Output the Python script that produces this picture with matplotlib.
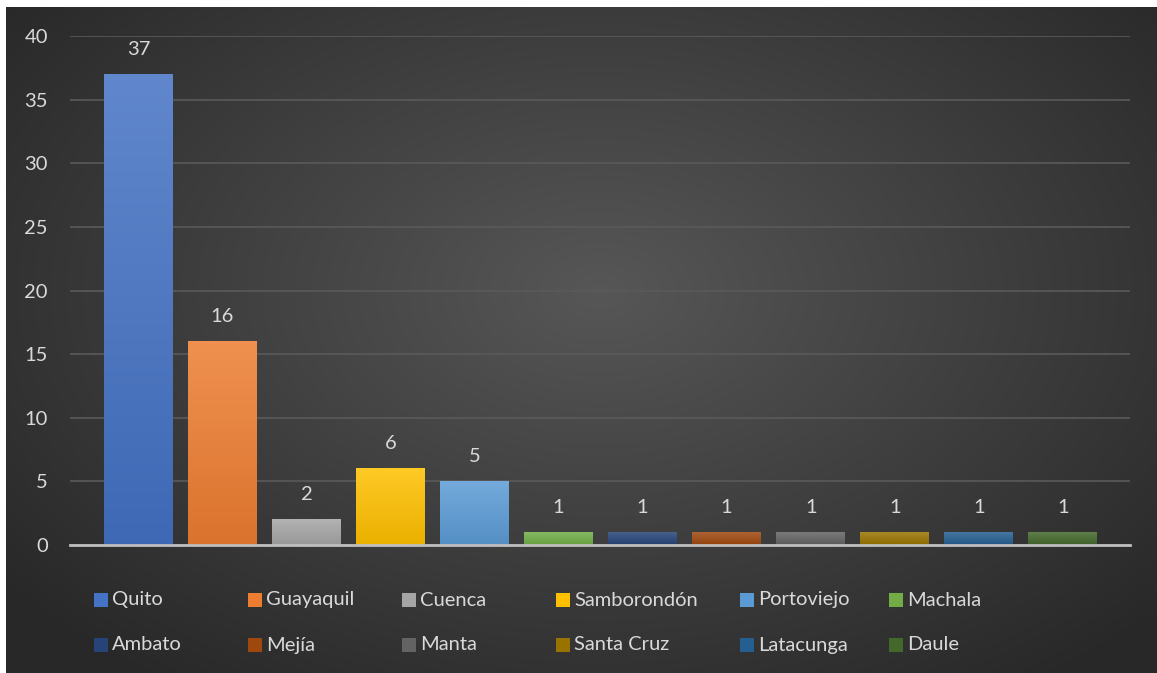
import numpy as np
import matplotlib
matplotlib.use("Agg")
import matplotlib.pyplot as plt
from matplotlib.patches import Rectangle

cities = ['Quito', 'Guayaquil', 'Cuenca', 'Samborondón', 'Portoviejo', 'Machala',
          'Ambato', 'Mejía', 'Manta', 'Santa Cruz', 'Latacunga', 'Daule']
counts = [37, 16, 2, 6, 5, 1, 1, 1, 1, 1, 1, 1]
colors = ['#4472C4', '#ED7D31', '#A5A5A5', '#FFC000', '#5B9BD5', '#70AD47',
          '#264478', '#9E480E', '#636363', '#997300', '#255E91', '#43682B']

plt.rcParams['font.family'] = ['Lato', 'DejaVu Sans']
txt = '#d9d9d9'


def shade(c, f):
    rgb = np.array(matplotlib.colors.to_rgb(c))
    if f > 0:
        return rgb + (1 - rgb) * f
    return rgb * (1 + f)


def main():
    W, H = 1157, 673
    fig = plt.figure(figsize=(W / 100, H / 100), dpi=100)
    fig.patch.set_facecolor('white')

    # dark background with radial gradient
    bg = fig.add_axes([6 / W, 0, 1 - 6 / W, 1 - 7 / H])
    yy, xx = np.mgrid[0:200, 0:340]
    d = np.sqrt(((xx - 175) / 170.0) ** 2 + ((yy - 85) / 110.0) ** 2)
    d = np.clip(d / 1.3, 0, 1)
    lum = 0.34 - 0.18 * d
    bg.imshow(np.dstack([lum, lum, lum]), aspect='auto', extent=[0, 1, 0, 1],
              interpolation='bilinear')
    bg.set_axis_off()

    ax = fig.add_axes([70 / W, 1 - 545 / H, 1060 / W, (545 - 36) / H])
    ax.patch.set_alpha(0)
    x = np.arange(len(cities))
    bars = ax.bar(x, counts, width=0.82, color=colors, zorder=3)
    for b, c in zip(bars, colors):
        x0, y0 = b.get_x(), b.get_y()
        w, h = b.get_width(), b.get_height()
        grad = np.linspace(0, 1, 64)[:, None]
        top, bot = shade(c, 0.15), shade(c, -0.08)
        img = top[None, None, :] * (1 - grad[..., None]) + bot[None, None, :] * grad[..., None]
        img = np.repeat(img, 2, axis=1)
        ax.imshow(img, extent=[x0, x0 + w, y0, y0 + h], aspect='auto',
                  zorder=3.5, clip_path=b, clip_on=True, interpolation='bilinear')
        ax.text(x0 + w / 2, h + 1.95, str(int(h)), ha='center', va='center',
                color=txt, fontsize=14.5)

    ax.set_xlim(-0.815, 11.80)
    ax.set_ylim(0, 40)
    ax.set_yticks(range(0, 41, 5))
    ax.set_xticks([])
    ax.yaxis.grid(True, color='#5a5a5a', linewidth=1.2, zorder=0)
    ax.set_axisbelow(True)
    for s in ['top', 'right', 'left']:
        ax.spines[s].set_visible(False)
    ax.spines['bottom'].set_color('#bfbfbf')
    ax.spines['bottom'].set_linewidth(2)
    ax.spines['bottom'].set_zorder(5)
    ax.tick_params(axis='y', length=0, labelsize=14.5, labelcolor=txt, pad=16)

    # legend drawn in Excel's row-wise layout
    col_x = [94, 248, 402, 556, 740, 889]
    row_y = [600, 645]
    for i, (name, c) in enumerate(zip(cities, colors)):
        px, py = col_x[i % 6], row_y[i // 6]
        fig.patches.append(Rectangle((px / W, 1 - (py + 7) / H), 14 / W, 14 / H,
                                     transform=fig.transFigure, facecolor=c,
                                     edgecolor='none'))
        fig.text((px + 18) / W, 1 - py / H, name, ha='left', va='center',
                 color=txt, fontsize=14.5)

    fig.savefig('out.png', dpi=100)


if __name__ == "__main__":
    main()
